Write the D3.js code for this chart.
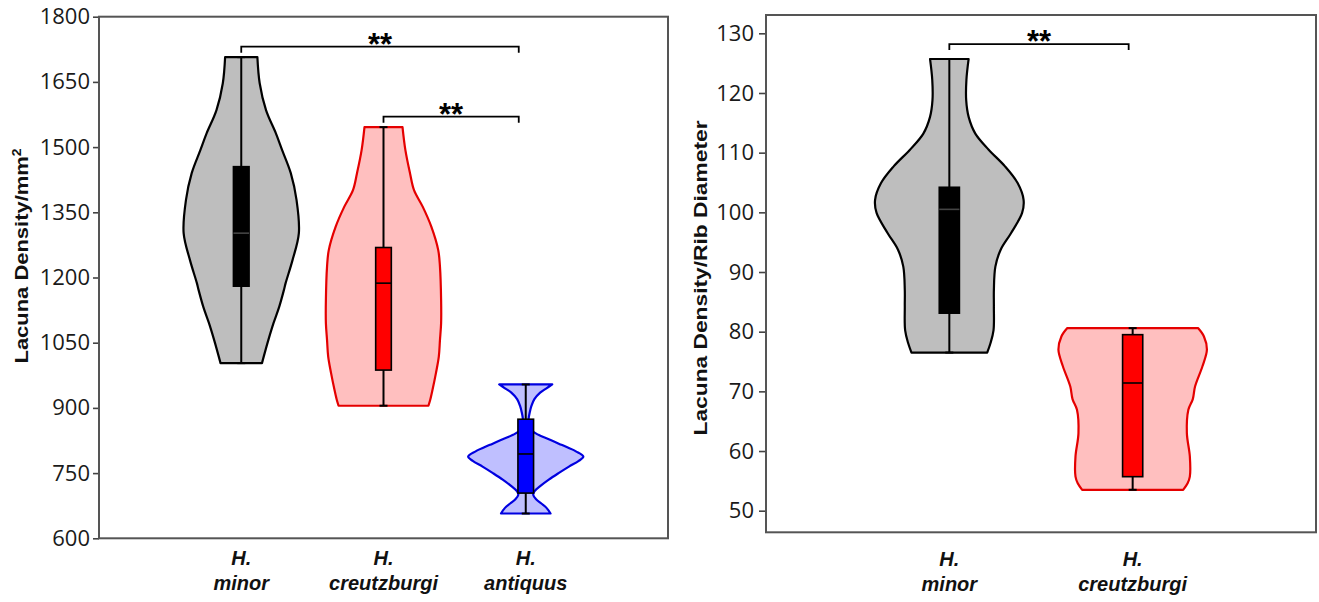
<!DOCTYPE html>
<html>
<head>
<meta charset="utf-8">
<script src="https://cdn.jsdelivr.net/npm/d3@7"></script>
<style>
body { margin: 0; background: #fff; }
</style>
</head>
<body>
<script>
var svgWidth = 1319;
var svgHeight = 602;

// left panel: lacuna density per mm2
var speciesA = ['minor', 'creutzburgi', 'antiquus'];
var minA = [1003, 905, 657];
var q1A = [1180, 987, 704];
var medianA = [1302, 1187, 794];
var q3A = [1455, 1269, 874];
var maxA = [1707, 1546, 954];
var ticksA = [600, 750, 900, 1050, 1200, 1350, 1500, 1650, 1800];

// violin outlines: [value, relative density]
var violinMinorA = [[1707, 0.28], [1647, 0.32], [1585, 0.43], [1532, 0.60], [1493, 0.71], [1440, 0.86],
    [1378, 0.96], [1302, 1.0], [1240, 0.89], [1187, 0.77], [1171, 0.74], [1133, 0.66], [1095, 0.56],
    [1056, 0.47], [1018, 0.39], [1003, 0.36]];
var violinCreutzA = [[1546, 0.33], [1493, 0.38], [1440, 0.46], [1401, 0.53], [1363, 0.68], [1317, 0.83],
    [1263, 0.95], [1225, 0.98], [1148, 1.0], [1095, 1.0], [1056, 0.98], [1018, 0.96], [980, 0.91],
    [941, 0.85], [918, 0.81], [905, 0.78]];
var violinAntiquusA = [[954, 0.46], [945, 0.36], [935, 0.25], [920, 0.15], [905, 0.10], [890, 0.07],
    [875, 0.05], [860, 0.05], [848, 0.10], [838, 0.22], [828, 0.40], [815, 0.62], [800, 0.87],
    [788, 1.0], [778, 0.92], [765, 0.75], [750, 0.57], [735, 0.40], [720, 0.25], [708, 0.15],
    [700, 0.13], [690, 0.18], [680, 0.27], [670, 0.36], [657, 0.43]];

// pairs compared: [group a, group b, height]
var bracketsA = [[0, 2, 1731], [1, 2, 1570]];

// right panel: lacuna density / rib diameter
var speciesB = ['minor', 'creutzburgi'];
var minB = [76.5, 53.5];
var q1B = [83.1, 55.7];
var medianB = [100.5, 71.4];
var q3B = [104.2, 79.5];
var maxB = [125.7, 80.6];
var ticksB = [50, 60, 70, 80, 90, 100, 110, 120, 130];

var violinMinorB = [[125.7, 0.26], [122.2, 0.23], [118.8, 0.227], [116.0, 0.26], [113.2, 0.35],
    [110.5, 0.53], [107.7, 0.75], [104.9, 0.92], [102.1, 1.0], [99.9, 0.98], [96.5, 0.83],
    [93.7, 0.69], [90.9, 0.62], [87.0, 0.60], [84.2, 0.60], [80.2, 0.595], [78.1, 0.555], [76.5, 0.51]];
var violinCreutzB = [[80.6, 0.88], [79.2, 0.96], [77.0, 1.0], [74.2, 0.94], [70.8, 0.84], [68.7, 0.81],
    [66.9, 0.75], [63.0, 0.73], [59.1, 0.77], [55.7, 0.77], [54.6, 0.74], [53.5, 0.68]];

var bracketsB = [[0, 1, 128.2]];

var violinFill = ['#bebebe', '#ffbfbf', '#bfbfff'];
var violinStroke = ['#000000', '#e50000', '#0000e0'];
var boxFill = ['#000000', '#ff0000', '#0000ff'];


var svg = d3.select('body')
    .append('svg')
    .attr('width', svgWidth)
    .attr('height', svgHeight);

function drawPanel(p) {
    var g = svg.append('g');

    var x = d3.scalePoint()
        .domain(p.species)
        .range([p.left, p.right])
        .padding(1);

    var y = d3.scaleLinear()
        .domain(p.yDomain)
        .range([p.bottom, p.top]);

    var step = x.step();
    var w = d3.scaleLinear().domain([0, 1]).range([0, step * 0.405]);
    var boxW = step * 0.11;

    // y axis
    var axis = g.append('g')
        .attr('transform', 'translate(' + p.left + ',0)')
        .call(d3.axisLeft(y)
            .tickValues(p.ticks)
            .tickSize(p.tickSize)
            .tickPadding(p.tickPad)
            .tickFormat(d3.format('d')));
    axis.select('.domain').remove();
    axis.selectAll('line').attr('stroke', '#444').attr('stroke-width', 1.6);
    axis.selectAll('text')
        .attr('font-family', 'Open Sans')
        .attr('font-size', 22)
        .attr('fill', '#1a1a1a');

    // frame
    g.append('rect')
        .attr('x', p.left)
        .attr('y', p.top)
        .attr('width', p.right - p.left)
        .attr('height', p.bottom - p.top)
        .attr('fill', 'none')
        .attr('stroke', '#555')
        .attr('stroke-width', 2);

    p.species.forEach(function (s, i) {
        var cx = x(s);

        var area = d3.area()
            .curve(d3.curveCatmullRom)
            .x0(function (d) { return cx - w(d[1]); })
            .x1(function (d) { return cx + w(d[1]); })
            .y(function (d) { return y(d[0]); });

        g.append('path')
            .datum(p.violins[i])
            .attr('d', area)
            .attr('fill', violinFill[i])
            .attr('stroke', violinStroke[i])
            .attr('stroke-width', 2.2)
            .attr('stroke-linejoin', 'round');

        // whisker
        g.append('line')
            .attr('x1', cx).attr('x2', cx)
            .attr('y1', y(p.max[i])).attr('y2', y(p.min[i]))
            .attr('stroke', '#000')
            .attr('stroke-width', 2);

        [p.min[i], p.max[i]].forEach(function (v) {
            g.append('line')
                .attr('x1', cx - 4).attr('x2', cx + 4)
                .attr('y1', y(v)).attr('y2', y(v))
                .attr('stroke', '#000')
                .attr('stroke-width', 2);
        });

        g.append('rect')
            .attr('x', cx - boxW / 2)
            .attr('y', y(p.q3[i]))
            .attr('width', boxW)
            .attr('height', y(p.q1[i]) - y(p.q3[i]))
            .attr('fill', boxFill[i])
            .attr('stroke', '#000')
            .attr('stroke-width', 1.6);

        g.append('line')
            .attr('x1', cx - boxW / 2).attr('x2', cx + boxW / 2)
            .attr('y1', y(p.median[i])).attr('y2', y(p.median[i]))
            .attr('stroke', i === 0 ? '#444' : '#000')
            .attr('stroke-width', 1.6);

        // category label
        var lab = g.append('text')
            .attr('text-anchor', 'middle')
            .attr('font-family', 'Liberation Sans, Arial, sans-serif')
            .attr('font-weight', 'bold')
            .attr('font-style', 'italic')
            .attr('font-size', 20)
            .attr('fill', '#111');
        lab.append('tspan').attr('x', cx).attr('y', p.labelY).text('H.');
        lab.append('tspan').attr('x', cx).attr('y', p.labelY + 25).text(s);
    });

    // significance brackets
    p.brackets.forEach(function (b) {
        var x1 = x(p.species[b[0]]);
        var x2 = x(p.species[b[1]]) - p.bracketInset;
        var by = y(b[2]);
        g.append('path')
            .attr('d', 'M' + x1 + ',' + (by + 6) + 'V' + by + 'H' + x2 + 'V' + (by + 6))
            .attr('fill', 'none')
            .attr('stroke', '#000')
            .attr('stroke-width', 1.8);
        g.append('text')
            .attr('x', (x1 + x2) / 2)
            .attr('y', by + 8)
            .attr('text-anchor', 'middle')
            .attr('font-family', 'Liberation Sans, Arial, sans-serif')
            .attr('font-weight', 'bold')
            .attr('font-size', 31)
            .text('**');
    });

    // y title
    g.append('text')
        .attr('transform', 'translate(' + p.titleX + ',' + p.titleY + ') rotate(-90)')
        .attr('text-anchor', 'middle')
        .attr('font-family', 'Liberation Sans, Arial, sans-serif')
        .attr('font-weight', 'bold')
        .attr('font-size', 19)
        .attr('textLength', p.titleLength)
        .attr('lengthAdjust', 'spacingAndGlyphs')
        .attr('fill', '#111')
        .each(function () {
            var t = d3.select(this);
            t.append('tspan').text(p.title);
            if (p.sup) {
                t.append('tspan').attr('dy', -7).attr('font-size', 12).text(p.sup);
            }
        });
}

drawPanel({
    species: speciesA,
    min: minA, q1: q1A, median: medianA, q3: q3A, max: maxA,
    violins: [violinMinorA, violinCreutzA, violinAntiquusA],
    brackets: bracketsA,
    ticks: ticksA,
    yDomain: [600, 1800],
    left: 99, right: 668, top: 16.7, bottom: 538.3,
    tickSize: 6, tickPad: 3,
    labelY: 565,
    bracketInset: 7,
    title: 'Lacuna Density/mm', sup: '2',
    titleX: 28, titleY: 256, titleLength: 215
});

drawPanel({
    species: speciesB,
    min: minB, q1: q1B, median: medianB, q3: q3B, max: maxB,
    violins: [violinMinorB, violinCreutzB],
    brackets: bracketsB,
    ticks: ticksB,
    yDomain: [46.38, 133.07],
    left: 766, right: 1316, top: 15, bottom: 532.3,
    tickSize: 7, tickPad: 5,
    labelY: 566,
    bracketInset: 4,
    title: 'Lacuna Density/Rib Diameter', sup: null,
    titleX: 707, titleY: 278, titleLength: 315
});
</script>
</body>
</html>
